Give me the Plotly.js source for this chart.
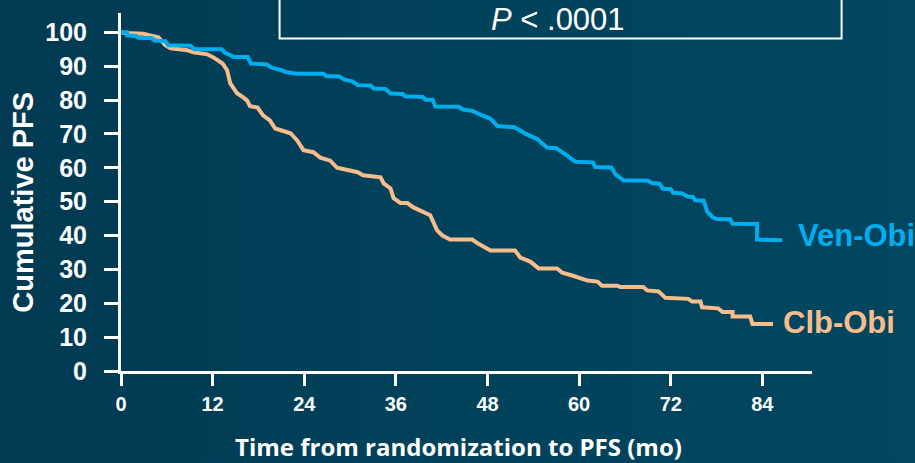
<!DOCTYPE html>
<html>
<head>
<meta charset="utf-8">
<script src="https://cdn.plot.ly/plotly-3.0.1.min.js"></script>
<style>
  html, body { margin: 0; padding: 0; width: 915px; height: 463px; overflow: hidden;
    background: linear-gradient(90deg, #013a52 0%, #01425b 50%, #02465f 100%); }
  #chart { width: 915px; height: 463px; }
</style>
</head>
<body>
<div id="chart"></div>
<script>
// Ven-Obi (time in months, cumulative PFS %)
const venObiTime = [0,0.8,0.8,2.0,2.2,4.0,4.4,5.8,6.2,9.1,9.6,13.2,13.6,14.3,14.8,16.6,17.0,19.1,19.8,20.9,21.5,23.0,26.5,26.9,28.5,29.3,30.3,31.0,32.7,33.1,34.6,35.3,36.9,37.2,39.5,39.9,40.8,41.2,44.2,44.8,46.0,47.3,48.4,49.3,51.5,52.3,53.0,54.5,55.8,57.0,57.8,58.3,59.5,61.8,62.1,64.2,64.8,65.8,69.0,69.5,70.5,71.0,72.0,72.3,73.5,74.2,74.9,75.2,76.3,76.8,77.5,78.0,79.8,80.1,83.3,83.3,86.6];
const venObiPFS = [100,100,99.1,98.9,98.4,98.3,97.6,97.4,96.2,96.0,95.0,95.0,94.0,93.2,92.7,92.7,90.8,90.5,89.5,88.9,88.3,87.8,87.8,87.0,87.0,86.0,85.5,84.4,84.3,83.4,83.3,81.9,81.8,81.1,80.9,80.1,80.1,78.1,78.0,77.2,76.8,75.5,74.5,72.3,72.0,71.0,70.0,68.5,66.0,65.8,64.4,63.8,61.8,61.6,60.2,60.1,58.0,56.3,56.2,55.5,55.3,53.8,53.7,52.6,52.4,51.5,51.4,50.4,50.3,47.0,45.4,44.9,44.8,43.5,43.4,38.8,38.6];

// Clb-Obi
const clbObiTime = [0,0.5,2.9,4.9,5.8,6.5,8.7,9.5,11.3,12.1,13.3,13.9,14.3,15.2,16.0,16.5,16.9,17.9,18.6,19.5,20.2,22.2,23.1,23.9,25.2,26.1,27.4,28.3,31.0,31.7,34.0,34.4,35.3,35.7,36.6,37.5,38.3,39.9,40.5,41.4,42.1,43.1,46.0,46.7,48.0,48.4,51.6,52.3,53.6,54.7,57.1,57.8,59.1,60.2,61.1,62.4,63.0,65.0,65.4,68.4,68.9,70.4,71.3,74.3,74.8,75.9,76.1,78.2,78.8,80.1,80.1,82.4,82.7,85.4];
const clbObiPFS = [100,99.8,99.6,98.5,96.2,95.3,94.7,94.1,93.5,92.6,90.8,88.8,85.0,82.0,80.8,79.9,78.2,77.8,75.5,74.0,71.6,70.2,68.0,65.2,64.6,63.0,62.1,60.0,58.7,57.8,57.2,55.4,53.9,51.0,49.6,49.6,48.3,46.8,46.0,41.5,40.0,38.8,38.8,37.7,35.9,35.6,35.6,33.5,32.3,30.3,30.3,29.0,28.2,27.3,26.7,26.4,25.2,25.2,24.8,24.8,23.8,23.5,21.6,21.3,20.5,20.5,18.8,18.5,17.4,17.4,16.1,16.1,13.9,13.9];

const xTicks = [0, 12, 24, 36, 48, 60, 72, 84];
const yTicks = [0, 10, 20, 30, 40, 50, 60, 70, 80, 90, 100];
const seriesNames = ["Ven-Obi", "Clb-Obi"];
const xTitle = "Time from randomization to PFS (mo)";
const yTitle = "Cumulative PFS";
const pText = "<i>P</i> &lt; .0001";

const BLUE = "#00aeef";
const ORANGE = "#f9bd8b";
const ARIAL = "Liberation Sans, Arial, sans-serif";

const traces = [
  { x: clbObiTime, y: clbObiPFS, type: "scatter", mode: "lines", name: seriesNames[1],
    line: { color: ORANGE, width: 4 }, hoverinfo: "skip" },
  { x: venObiTime, y: venObiPFS, type: "scatter", mode: "lines", name: seriesNames[0],
    line: { color: BLUE, width: 4 }, hoverinfo: "skip" }
];

const layout = {
  width: 915, height: 463,
  margin: { l: 121, r: 103, t: 13, b: 92 },
  paper_bgcolor: "rgba(0,0,0,0)",
  plot_bgcolor: "rgba(0,0,0,0)",
  showlegend: false,
  xaxis: {
    range: [0, 90.5], tickvals: xTicks, ticktext: xTicks.map(String),
    showline: true, linecolor: "#ffffff", linewidth: 3,
    ticks: "outside", ticklen: 12, tickwidth: 3, tickcolor: "#ffffff",
    showgrid: false, zeroline: false, ticklabelstandoff: 1,
    tickfont: { family: ARIAL, size: 20, color: "#ffffff", weight: "bold" }
  },
  yaxis: {
    range: [0, 105.7], tickvals: yTicks, ticktext: yTicks.map(String),
    showline: true, linecolor: "#ffffff", linewidth: 3,
    ticks: "outside", ticklen: 14, tickwidth: 3, tickcolor: "#ffffff",
    showgrid: false, zeroline: false, ticklabelstandoff: 12,
    tickfont: { family: ARIAL, size: 25, color: "#ffffff", weight: "bold" }
  },
  shapes: [
    { type: "rect", xref: "paper", yref: "paper", x0: 0.2295, x1: 1.0428, y0: 0.9285, y1: 1.08,
      line: { color: "#ffffff", width: 2 }, fillcolor: "rgba(0,0,0,0)" }
  ],
  annotations: [
    { xref: "paper", yref: "paper", x: 0.488, y: -0.211, text: xTitle, showarrow: false,
      xanchor: "center", yanchor: "middle",
      font: { family: "Open Sans, sans-serif", size: 24, color: "#ffffff", weight: "bold" } },
    { xref: "paper", yref: "paper", x: -0.1414, y: 0.471, text: yTitle, showarrow: false,
      textangle: -90, xanchor: "center", yanchor: "middle",
      font: { family: ARIAL, size: 29, color: "#ffffff", weight: "bold" } },
    { xref: "paper", yref: "paper", x: 0.633, y: 0.981, text: pText, showarrow: false,
      xanchor: "center", yanchor: "middle",
      font: { family: ARIAL, size: 31, color: "#ffffff" } },
    { xref: "x", yref: "y", x: 88.4, y: 40.0, text: seriesNames[0], showarrow: false,
      xanchor: "left", yanchor: "middle",
      font: { family: ARIAL, size: 31, color: BLUE, weight: "bold" } },
    { xref: "x", yref: "y", x: 86.5, y: 14.4, text: seriesNames[1], showarrow: false,
      xanchor: "left", yanchor: "middle",
      font: { family: ARIAL, size: 31, color: ORANGE, weight: "bold" } }
  ]
};

Plotly.newPlot("chart", traces, layout, { displayModeBar: false, staticPlot: true });
</script>
</body>
</html>
